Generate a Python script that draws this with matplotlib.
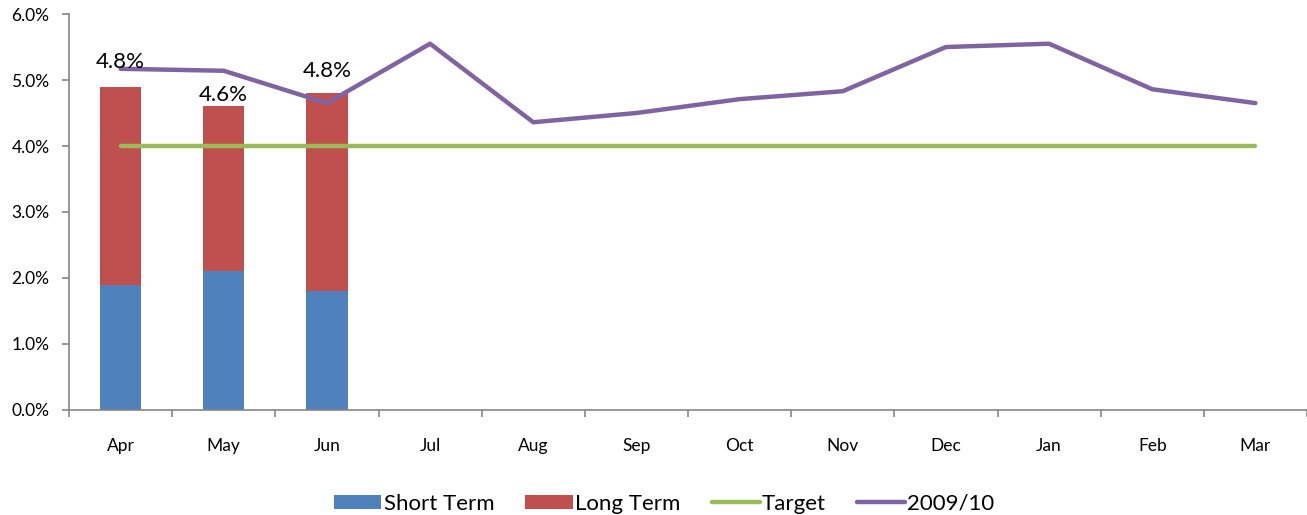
import numpy as np
import matplotlib.pyplot as plt
from matplotlib.ticker import FuncFormatter, FixedLocator

plt.rcParams['font.family'] = ['Lato', 'DejaVu Sans']

months = ["Apr", "May", "Jun", "Jul", "Aug", "Sep", "Oct", "Nov", "Dec", "Jan", "Feb", "Mar"]
short_term = [1.9, 2.1, 1.8]
long_term = [3.0, 2.5, 3.0]
total_labels = ["4.8%", "4.6%", "4.8%"]
target = [4.0] * 12
last_year = [5.17, 5.14, 4.65, 5.55, 4.36, 4.50, 4.71, 4.83, 5.50, 5.55, 4.86, 4.65]

blue = "#4F81BD"
red = "#C0504D"
green = "#9BBB59"
purple = "#8064A2"
grey = "#868686"

fig = plt.figure(figsize=(13.07, 5.15), dpi=100)
ax = fig.add_axes([0.0528, 0.2039, 0.9472, 0.7689])

x = np.arange(len(months))
xb = x[:len(short_term)]
b1 = ax.bar(xb, short_term, width=0.4, color=blue, label="Short Term", zorder=2)
b2 = ax.bar(xb, long_term, width=0.4, bottom=short_term, color=red, label="Long Term", zorder=2)
l1, = ax.plot(x, target, color=green, lw=3.2, solid_capstyle="round", label="Target", zorder=3)
l2, = ax.plot(x, last_year, color=purple, lw=3.2, solid_capstyle="round", label="2009/10", zorder=4)

# data labels for bar totals
offsets = [18, 8, 16]
for xi, s, l, txt, off in zip(xb, short_term, long_term, total_labels, offsets):
    ax.annotate(txt, (xi, s + l), xytext=(0, off), textcoords="offset points",
                ha="center", va="center", fontsize=16, color="black", zorder=5)

ax.set_xlim(-0.5, len(months) - 0.5)
ax.set_ylim(0, 6)
ax.set_yticks(np.arange(0, 6.01, 1))
ax.yaxis.set_major_formatter(FuncFormatter(lambda v, p: f"{v:.1f}%"))
ax.set_xticks(x)
ax.set_xticklabels(months)
ax.xaxis.set_minor_locator(FixedLocator(np.arange(-0.5, len(months), 1)))

for s in ["top", "right"]:
    ax.spines[s].set_visible(False)
for s in ["left", "bottom"]:
    ax.spines[s].set_color(grey)
    ax.spines[s].set_linewidth(1.2)

ax.tick_params(axis="y", which="major", length=5, width=1.2, color=grey,
               labelsize=12.5, pad=9)
ax.tick_params(axis="x", which="major", length=0, labelsize=12.5, pad=20)
ax.tick_params(axis="x", which="minor", length=5, width=1.2, color=grey)

fig.legend([b1, b2, l1, l2], ["Short Term", "Long Term", "Target", "2009/10"],
           loc="center", bbox_to_anchor=(0.508, 0.022), ncol=4,
           frameon=False, fontsize=16, handlelength=2.15, handletextpad=0.1,
           columnspacing=1.4, handleheight=0.63)

fig.savefig("out.png", dpi=100)
